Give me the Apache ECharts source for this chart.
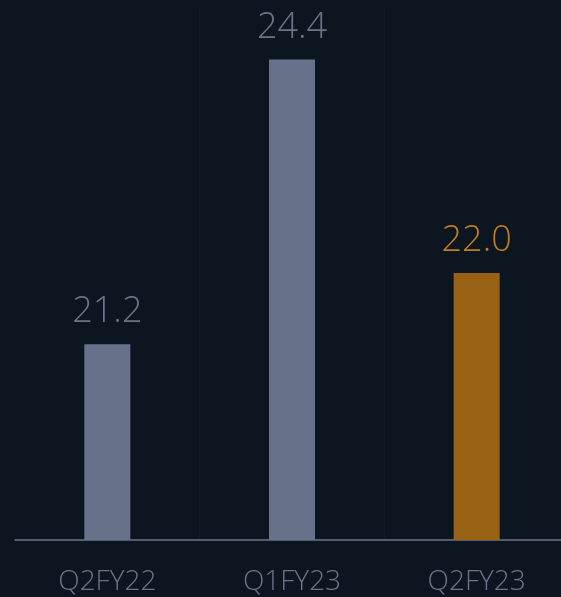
<!DOCTYPE html>
<html>
<head>
<meta charset="utf-8">
<script src="https://cdn.jsdelivr.net/npm/echarts@6/dist/echarts.min.js"></script>
<style>
html,body{margin:0;padding:0;background:#0b1620;overflow:hidden;}
#c{width:569px;height:597px;}
</style>
</head>
<body>
<div id="c"></div>
<script>
const categories = ['Q2FY22', 'Q1FY23', 'Q2FY23'];
const values = [21.2, 24.4, 22.0];
const barColors = ['#67718a', '#67718a', '#9a6214'];
const labelColors = ['#6a7489', '#6a7489', '#c27c1e'];

const chart = echarts.init(document.getElementById('c'));
chart.setOption({
  backgroundColor: '#0b1620',
  animation: false,
  grid: { left: 15, right: 0, top: 6, bottom: 57, containLabel: false },
  xAxis: {
    type: 'category',
    data: categories,
    axisLine: { show: true, lineStyle: { color: '#6a7489', width: 1.5 } },
    axisTick: { show: false },
    axisLabel: { color: '#6a7489', fontSize: 28, fontFamily: 'Open Sans', fontWeight: 300, margin: 28 },
    splitLine: { show: true, interval: (i) => i > 0, lineStyle: { color: '#0f1b25', width: 1 } }
  },
  yAxis: {
    type: 'value',
    min: 19,
    max: 25,
    show: false,
    splitLine: { show: false }
  },
  series: [{
    type: 'bar',
    barWidth: 46,
    data: values.map((v, i) => ({
      value: v,
      itemStyle: { color: barColors[i] },
      label: { color: labelColors[i] }
    })),
    label: {
      show: true,
      position: 'top',
      distance: 14,
      fontSize: 36,
      fontFamily: 'Open Sans',
      fontWeight: 300,
      formatter: p => p.value.toFixed(1)
    }
  }]
});
</script>
</body>
</html>
